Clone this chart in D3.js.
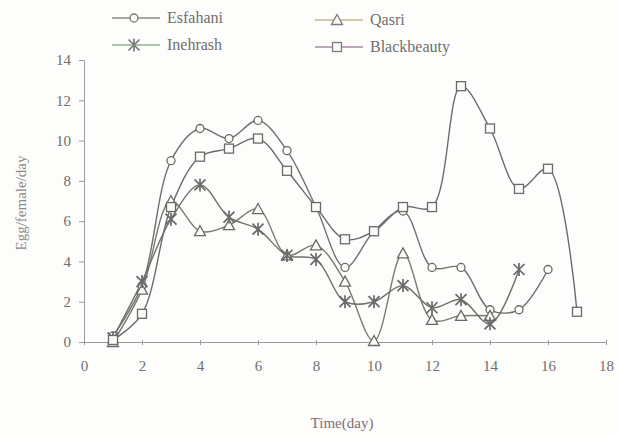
<!DOCTYPE html>
<html>
<head>
<meta charset="utf-8">
<script src="https://cdn.jsdelivr.net/npm/d3@7"></script>
<style>
  body { margin: 0; background: #fdfdfb; }
  svg { display: block; font-family: "Liberation Serif", "DejaVu Serif", serif; }
  .axis path, .axis line { stroke: #9a9a9a; }
  .axis text { fill: #6e6e6e; font-size: 15px; font-family: "Liberation Serif", serif; }
</style>
</head>
<body>
<div id="chart"></div>
<script>
// days sampled
var days = [1, 2, 3, 4, 5, 6, 7, 8, 9, 10, 11, 12, 13, 14, 15, 16, 17];

// eggs per female per day
var esfahani    = [0.3, 2.8, 9.0, 10.6, 10.1, 11.0, 9.5, 6.7, 3.7, 5.5, 6.5, 3.7, 3.7, 1.6, 1.6, 3.6];
var qasri       = [0.0, 2.6, 7.0, 5.5, 5.8, 6.6, 4.3, 4.8, 3.0, 0.05, 4.4, 1.1, 1.3, 1.3];
var inehrash    = [0.2, 3.0, 6.1, 7.8, 6.2, 5.6, 4.3, 4.1, 2.0, 2.0, 2.8, 1.7, 2.1, 0.9, 3.6];
var blackbeauty = [0.1, 1.4, 6.7, 9.2, 9.6, 10.1, 8.5, 6.7, 5.1, 5.5, 6.7, 6.7, 12.7, 10.6, 7.6, 8.6, 1.5];

var xTicks = [0, 2, 4, 6, 8, 10, 12, 14, 16, 18];
var yTicks = [0, 2, 4, 6, 8, 10, 12, 14];

var series = [
  { name: 'Esfahani', values: esfahani, marker: 'circle', line: '#6f6f6f', legendLine: '#8a8a8a' },
  { name: 'Qasri', values: qasri, marker: 'triangle', line: '#7c7a72', legendLine: '#c9b48a' },
  { name: 'Inehrash', values: inehrash, marker: 'star', line: '#6e706a', legendLine: '#8fb38a' },
  { name: 'Blackbeauty', values: blackbeauty, marker: 'square', line: '#6c6a70', legendLine: '#a98aa8' }
];

var W = 618, H = 436;
var svg = d3.select('#chart').append('svg').attr('width', W).attr('height', H);

var x = d3.scaleLinear().domain([0, 18]).range([84, 606]);
var y = d3.scaleLinear().domain([0, 14]).range([342, 60]);

// axes
svg.append('g')
  .attr('class', 'axis')
  .attr('transform', 'translate(0,' + y(0) + ')')
  .call(d3.axisBottom(x).tickValues(xTicks).tickSize(4).tickPadding(14).tickSizeOuter(0))
  .call(function(g) { g.selectAll('.tick line').attr('y1', -2).attr('y2', 3); });

svg.append('g')
  .attr('class', 'axis')
  .attr('transform', 'translate(' + x(0) + ',0)')
  .call(d3.axisLeft(y).tickValues(yTicks).tickSize(5).tickPadding(8).tickSizeOuter(0));

// axis titles
svg.append('text')
  .attr('x', 342).attr('y', 428)
  .attr('text-anchor', 'middle')
  .attr('fill', '#7a6f78')
  .style('font-size', '15px')
  .text('Time(day)');

svg.append('text')
  .attr('transform', 'translate(26,' + 203 + ') rotate(-90)')
  .attr('text-anchor', 'middle')
  .attr('fill', '#8a8a8a')
  .style('font-size', '15px')
  .text('Egg/female/day');

// markers
function drawMarker(g, type, stroke) {
  if (type === 'circle') {
    g.append('circle').attr('r', 4).attr('fill', '#fbfbf8').attr('stroke', stroke).attr('stroke-width', 1.3);
  } else if (type === 'square') {
    g.append('rect').attr('x', -4.5).attr('y', -4.5).attr('width', 9).attr('height', 9)
      .attr('fill', '#fbfbf8').attr('stroke', stroke).attr('stroke-width', 1.3);
  } else if (type === 'triangle') {
    g.append('path').attr('d', 'M0,-5.5L5.5,4.5L-5.5,4.5Z')
      .attr('fill', '#fbfbf8').attr('stroke', stroke).attr('stroke-width', 1.3);
  } else if (type === 'star') {
    g.append('path').attr('d', 'M-5.5,-5.5L5.5,5.5M-5.5,5.5L5.5,-5.5M0,-6.5L0,6.5')
      .attr('fill', 'none').attr('stroke', stroke).attr('stroke-width', 1.7);
  }
}

var line = d3.line()
  .x(function(d, i) { return x(days[i]); })
  .y(function(d) { return y(d); })
  .curve(d3.curveCatmullRom.alpha(0.5));

series.forEach(function(s) {
  svg.append('path')
    .datum(s.values)
    .attr('fill', 'none')
    .attr('stroke', s.line)
    .attr('stroke-width', 1.4)
    .attr('d', line);
});

series.forEach(function(s) {
  svg.append('g').selectAll('g')
    .data(s.values)
    .enter().append('g')
    .attr('transform', function(d, i) { return 'translate(' + x(days[i]) + ',' + y(d) + ')'; })
    .each(function() { drawMarker(d3.select(this), s.marker, '#6a6a6a'); });
});

// legend
var legendPos = [
  { x: 112, y: 18 }, { x: 315, y: 20 },
  { x: 112, y: 45 }, { x: 315, y: 47 }
];
series.forEach(function(s, i) {
  var p = legendPos[i];
  var g = svg.append('g').attr('transform', 'translate(' + p.x + ',' + p.y + ')');
  g.append('line').attr('x1', 0).attr('x2', 48).attr('stroke', s.legendLine).attr('stroke-width', 1.6);
  var m = g.append('g').attr('transform', 'translate(22,0)');
  drawMarker(m, s.marker, '#7a7a7a');
  g.append('text').attr('x', 55).attr('y', 5)
    .attr('fill', '#6f6f6f')
    .style('font-size', '16px')
    .text(s.name);
});
</script>
</body>
</html>
